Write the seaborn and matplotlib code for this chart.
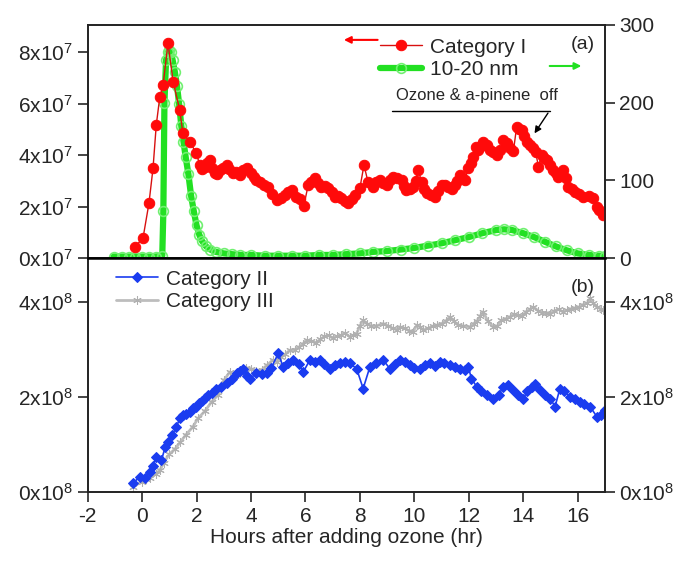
import numpy as np
import pandas as pd
import matplotlib
matplotlib.use("Agg")
import matplotlib.pyplot as plt
import seaborn as sns

# ---- data ----
# panel (a): Category I (left axis, x1e7) and 10-20 nm (right axis)
cat1_t = [-0.27, 0.03, 0.25, 0.40, 0.52, 0.65, 0.77, 0.95, 1.14, 1.38, 1.50, 1.75, 1.99, 2.12,
          2.30, 2.49, 2.67, 2.85, 3.10, 3.33, 3.60, 3.85, 4.10, 4.32, 4.63, 4.94, 5.24, 5.49,
          5.67, 5.94, 6.10, 6.35, 6.59, 6.84, 7.08, 7.32, 7.57, 7.82, 8.00, 8.15, 8.49, 8.74,
          8.98, 9.22, 9.53, 9.71, 9.96, 10.14, 10.27, 10.45, 10.76, 11.00, 11.25, 11.49, 11.68,
          11.86, 11.98, 12.17, 12.35, 12.53, 12.78, 13.02, 13.27, 13.51, 13.76, 13.94, 14.13,
          14.37, 14.56, 14.68, 14.86, 15.11, 15.29, 15.47, 15.66, 15.90, 16.21, 16.58, 16.70, 16.95]
cat1_e7 = [0.44, 0.76, 2.12, 3.48, 5.17, 6.26, 6.72, 8.34, 6.85, 5.75, 4.84, 4.52, 4.07, 3.61,
           3.55, 3.81, 3.30, 3.42, 3.61, 3.30, 3.22, 3.50, 3.15, 2.96, 2.77, 2.25, 2.45, 2.64,
           2.38, 2.02, 2.83, 3.09, 2.77, 2.71, 2.38, 2.32, 2.12, 2.45, 2.71, 3.61, 2.77, 3.03,
           2.83, 3.16, 3.03, 2.64, 2.77, 3.42, 2.96, 2.51, 2.38, 2.83, 2.77, 2.83, 3.22,
           3.03, 3.48, 3.93, 4.19, 4.52, 4.19, 4.00, 4.58, 4.26, 5.10, 4.97, 4.52,
           4.26, 3.55, 4.00, 3.81, 3.42, 3.16, 3.42, 2.77, 2.58, 2.38, 2.32, 2.00, 1.67]
# more markers between the ones above
cat1_t_b = [2.2, 2.4, 2.58, 2.76, 2.98, 3.2, 3.45, 3.72, 4.0, 4.2, 4.48, 4.78, 5.1, 5.35, 5.8,
            6.22, 6.47, 6.72, 6.96, 7.2, 7.45, 7.7, 8.3, 8.6, 8.86, 9.1, 9.37, 9.62, 9.85,
            10.05, 10.36, 10.6, 10.88, 11.12, 11.37, 11.58, 11.77, 12.07, 12.26, 12.44, 12.66,
            12.9, 13.15, 13.39, 13.64, 13.85, 14.03, 14.25, 14.46, 14.77, 14.98, 15.2, 15.38,
            15.56, 15.78, 16.05, 16.4, 16.8]
cat1_e7_b = [3.45, 3.70, 3.50, 3.25, 3.50, 3.45, 3.35, 3.40, 3.30, 3.05, 2.85, 2.50, 2.35, 2.55, 2.30,
             2.95, 2.90, 2.80, 2.55, 2.40, 2.20, 2.30, 2.95, 2.95, 2.90, 3.05, 3.10, 2.80, 2.70,
             3.00, 2.70, 2.45, 2.60, 2.85, 2.70, 3.00, 3.10, 3.70, 4.30, 4.35, 4.40,
             4.10, 4.20, 4.45, 4.15, 5.00, 4.75, 4.40, 4.10, 3.90, 3.60, 3.30, 3.30,
             3.10, 2.70, 2.50, 2.40, 1.85]

nm_t = [-1.05, -0.75, -0.5, -0.25, 0.0, 0.25, 0.5, 0.74, 0.78, 0.82, 0.88, 0.95, 1.0, 1.06,
        1.12, 1.2, 1.28, 1.36, 1.44, 1.52, 1.6, 1.7, 1.8, 1.9, 2.0, 2.1, 2.2, 2.35, 2.5, 2.7,
        3.0, 3.3, 3.6, 4.0, 4.5, 5.0, 5.5, 6.0, 6.5, 7.0, 7.5, 8.0, 8.5, 9.0, 9.5, 10.0, 10.5,
        11.0, 11.5, 12.0, 12.5, 13.0, 13.3, 13.6, 14.0, 14.4, 14.8, 15.2, 15.6, 16.0, 16.4, 16.8, 17.0]
nm_val = [2, 2, 2, 2, 2, 2, 2, 3, 60, 200, 255, 265, 268, 265,
          255, 240, 222, 198, 170, 150, 130, 108, 80, 60, 42, 30, 22, 15, 11, 8,
          6, 5, 4, 4, 3, 3, 3, 3, 4, 4, 5, 6, 8, 9, 11, 13, 16,
          19, 23, 27, 32, 36, 37, 36, 32, 27, 21, 15, 10, 6, 4, 3, 3]

# panel (b): Category II and III (x1e8)
cat2_t = [-0.34, -0.09, 0.1, 0.28, 0.52, 0.71, 0.95, 1.1, 1.26, 1.5, 1.75, 1.99, 2.2, 2.42,
          2.73, 3.10, 3.47, 3.71, 3.96, 4.20, 4.57, 5.0, 5.18, 5.55, 5.92, 6.16, 6.53, 6.90,
          7.26, 7.63, 7.88, 8.12, 8.37, 8.86, 9.10, 9.47, 9.84, 10.2, 10.57, 10.94, 11.31,
          11.68, 11.98, 12.1, 12.29, 12.66, 12.9, 13.27, 13.64, 14.0, 14.31, 14.62, 14.99,
          15.17, 15.35, 15.72, 16.09, 16.46, 16.70, 17.0]
cat2_e8 = [0.18, 0.32, 0.30, 0.43, 0.74, 0.67, 1.06, 1.20, 1.37, 1.62, 1.69, 1.80, 1.92, 2.04,
           2.18, 2.29, 2.50, 2.60, 2.39, 2.50, 2.50, 2.92, 2.64, 2.78, 2.53, 2.78, 2.78, 2.60,
           2.71, 2.71, 2.60, 2.18, 2.64, 2.78, 2.60, 2.78, 2.67, 2.60, 2.71, 2.74, 2.67,
           2.60, 2.64, 2.39, 2.22, 2.04, 1.97, 2.22, 2.15, 1.97, 2.22, 2.15, 1.97,
           1.80, 2.18, 2.01, 1.90, 1.80, 1.59, 1.73]
cat2_t_b = [0.4, 0.85, 1.38, 1.62, 1.87, 2.1, 2.3, 2.55, 2.9, 3.3, 3.6, 3.85, 4.4, 4.75, 5.35,
            5.75, 6.35, 6.7, 7.1, 7.45, 8.6, 9.3, 9.65, 10.0, 10.4, 10.75, 11.1, 11.5, 11.85,
            12.45, 13.1, 13.45, 13.8, 14.15, 14.45, 14.8, 15.5, 15.9, 16.25, 16.85]
cat2_e8_b = [0.55, 0.95, 1.55, 1.64, 1.76, 1.88, 1.98, 2.08, 2.22, 2.38, 2.55, 2.45, 2.48, 2.62, 2.72,
             2.70, 2.74, 2.70, 2.68, 2.75, 2.72, 2.70, 2.74, 2.62, 2.68, 2.66, 2.72, 2.64, 2.58,
             2.12, 2.05, 2.25, 2.05, 2.12, 2.28, 2.05, 2.12, 1.95, 1.86, 1.62]

cat3_t = [-0.34, 0.0, 0.3, 0.65, 1.0, 1.4, 1.86, 2.3, 2.8, 3.22, 3.6, 4.0, 4.4, 4.8, 5.1, 5.43,
          5.75, 6.04, 6.4, 6.7, 7.0, 7.3, 7.63, 7.88, 8.12, 8.4, 8.86, 9.2, 9.47, 9.8, 10.1,
          10.33, 10.7, 11.0, 11.31, 11.6, 12.05, 12.3, 12.53, 12.9, 13.2, 13.51, 13.8, 14.1,
          14.37, 14.7, 14.99, 15.3, 15.6, 15.9, 16.2, 16.46, 16.7, 16.95]
cat3_e8 = [0.11, 0.22, 0.30, 0.46, 0.80, 1.05, 1.37, 1.70, 2.05, 2.53, 2.50, 2.60, 2.58, 2.78,
           2.84, 2.99, 3.05, 3.20, 3.15, 3.28, 3.24, 3.30, 3.27, 3.34, 3.62, 3.50, 3.55, 3.45,
           3.48, 3.40, 3.52, 3.41, 3.50, 3.55, 3.69, 3.52, 3.48, 3.60, 3.80, 3.48, 3.62,
           3.69, 3.72, 3.80, 3.90, 3.78, 3.76, 3.85, 3.83, 3.88, 3.95, 4.08, 3.90, 3.83]
cat3_t_b = [0.15, 0.5, 0.8, 1.2, 1.6, 2.05, 2.55, 3.0, 3.4, 3.8, 4.2, 4.6, 4.95, 5.25, 5.6, 5.9,
            6.2, 6.55, 6.85, 7.15, 7.45, 7.75, 8.0, 8.25, 8.6, 9.05, 9.35, 9.65, 9.95, 10.2,
            10.5, 10.85, 11.15, 11.45, 11.8, 12.18, 12.42, 12.7, 13.05, 13.35, 13.65, 13.95,
            14.25, 14.55, 14.85, 15.15, 15.45, 15.75, 16.05, 16.35, 16.58, 16.85]
cat3_e8_b = [0.28, 0.38, 0.62, 0.90, 1.20, 1.55, 1.90, 2.35, 2.45, 2.62, 2.55, 2.68, 2.75, 2.90, 3.00, 3.12,
             3.18, 3.22, 3.30, 3.28, 3.35, 3.30, 3.50, 3.55, 3.50, 3.50, 3.42, 3.45, 3.38, 3.48,
             3.45, 3.52, 3.60, 3.60, 3.50, 3.55, 3.70, 3.60, 3.50, 3.65, 3.75, 3.70,
             3.85, 3.82, 3.78, 3.82, 3.80, 3.86, 3.90, 3.98, 3.98, 3.86]

x_ticks = [-2, 0, 2, 4, 6, 8, 10, 12, 14, 16]
top_left_ticks = [0, 2, 4, 6, 8]
top_right_ticks = [0, 100, 200, 300]
bot_ticks = [0, 2, 4]

# ---- style ----
sns.set_style("ticks")
plt.rcParams['font.family'] = ['Liberation Sans', 'DejaVu Sans']
plt.rcParams['mathtext.fontset'] = 'custom'
plt.rcParams['mathtext.rm'] = 'Liberation Sans'
plt.rcParams['mathtext.it'] = 'Liberation Sans:italic'
plt.rcParams['axes.unicode_minus'] = False
plt.rcParams['axes.linewidth'] = 1.2

fig = plt.figure(figsize=(6.85, 5.61), dpi=100)
L, W = 0.128, 0.755
ax_a = fig.add_axes([L, 0.540, W, 0.4155])
ax_b = fig.add_axes([L, 0.123, W, 0.417])
ax_a2 = ax_a.twinx()
ax_b2 = ax_b.twinx()

# panel (a)
sns.lineplot(x=nm_t, y=nm_val, ax=ax_a2, color='#22e022', linewidth=4.5,
             marker='o', markersize=7, markerfacecolor='none', markeredgecolor='#70f070',
             markeredgewidth=1.2)
sns.lineplot(x=cat1_t + cat1_t_b, y=cat1_e7 + cat1_e7_b, ax=ax_a, color='#d81010', linewidth=1,
             marker='o', markersize=7.5, markerfacecolor='#ff0a0a', markeredgecolor='#ff0a0a')
ax_a.set_zorder(ax_a2.get_zorder() + 1)
ax_a.patch.set_visible(False)
h_red = ax_a.lines[-1]
h_green = ax_a2.lines[-1]

# panel (b)
sns.lineplot(x=cat3_t + cat3_t_b, y=cat3_e8 + cat3_e8_b, ax=ax_b, color='#bdbdbd', linewidth=2,
             marker=(6, 2, 0), markersize=6, markeredgecolor='#b0b0b0')
sns.lineplot(x=cat2_t + cat2_t_b, y=cat2_e8 + cat2_e8_b, ax=ax_b, color='#1a3cf0', linewidth=1.2,
             marker='D', markersize=5.5, markerfacecolor='#1a3cf0', markeredgecolor='#1a3cf0')
h_gray = ax_b.lines[0]
h_blue = ax_b.lines[1]

fmt7 = lambda v, p: f'{int(v)}x10$^{{7}}$'
fmt8 = lambda v, p: f'{int(v)}x10$^{{8}}$'

for ax in (ax_a, ax_a2, ax_b, ax_b2):
    ax.set_xlim(-2, 17)
    ax.set_xticks(x_ticks)
    ax.tick_params(labelsize=15, length=7, width=1.2, direction='out')
    ax.set_xlabel('')
    ax.set_ylabel('')
    for s in ax.spines.values():
        s.set_visible(True)
        s.set_color('#222222')

ax_a.set_ylim(0, 9.05)
ax_a.set_yticks(top_left_ticks)
ax_a.yaxis.set_major_formatter(plt.FuncFormatter(fmt7))
ax_a2.set_ylim(0, 300)
ax_a2.set_yticks(top_right_ticks)
ax_a.tick_params(axis='x', bottom=False, labelbottom=False)
ax_a2.tick_params(axis='x', bottom=False, labelbottom=False)
ax_a.spines['bottom'].set_linewidth(1.8)
ax_a.spines['bottom'].set_color('black')

ax_b.set_ylim(0, 4.93)
ax_b2.set_ylim(0, 4.93)
ax_b.set_yticks(bot_ticks)
ax_b2.set_yticks(bot_ticks)
ax_b.yaxis.set_major_formatter(plt.FuncFormatter(fmt8))
ax_b2.yaxis.set_major_formatter(plt.FuncFormatter(fmt8))
ax_b.set_xlabel('Hours after adding ozone (hr)', fontsize=15, labelpad=2)

# legends
leg_a = ax_a.legend([h_red, h_green], ['Category I', '10-20 nm'], loc='upper left',
                    bbox_to_anchor=(0.565, 0.945), frameon=False, fontsize=15,
                    handlelength=2.0, handletextpad=0.4, labelspacing=0.15,
                    borderpad=0, borderaxespad=0)
leg_b = ax_b.legend([h_blue, h_gray], ['Category II', 'Category III'], loc='upper left',
                    bbox_to_anchor=(0.055, 0.95), frameon=False, fontsize=15,
                    handlelength=2.0, handletextpad=0.4, labelspacing=0.15,
                    borderpad=0, borderaxespad=0)

# axis-direction arrows
ax_a.annotate('', xy=(0.49, 0.936), xytext=(0.566, 0.936), xycoords='axes fraction',
              arrowprops=dict(arrowstyle='-|>', color='red', lw=1.5, mutation_scale=10))
ax_a.annotate('', xy=(0.96, 0.824), xytext=(0.888, 0.824), xycoords='axes fraction',
              arrowprops=dict(arrowstyle='-|>', color='#22e022', lw=1.5, mutation_scale=10))

ax_a.text(0.957, 0.915, '(a)', transform=ax_a.transAxes, ha='center', va='center', fontsize=14)
ax_b.text(0.957, 0.876, '(b)', transform=ax_b.transAxes, ha='center', va='center', fontsize=14)

# ozone off annotation
ax_a.text(0.752, 0.697, 'Ozone & a-pinene  off', transform=ax_a.transAxes,
          ha='center', va='center', fontsize=12)
ax_a.plot([0.588, 0.893], [0.632, 0.632], transform=ax_a.transAxes, color='black', lw=1)
ax_a.annotate('', xy=(0.861, 0.525), xytext=(0.893, 0.632), xycoords='axes fraction',
              arrowprops=dict(arrowstyle='-|>', color='black', lw=1, mutation_scale=10))

fig.savefig('out.png', dpi=100)
